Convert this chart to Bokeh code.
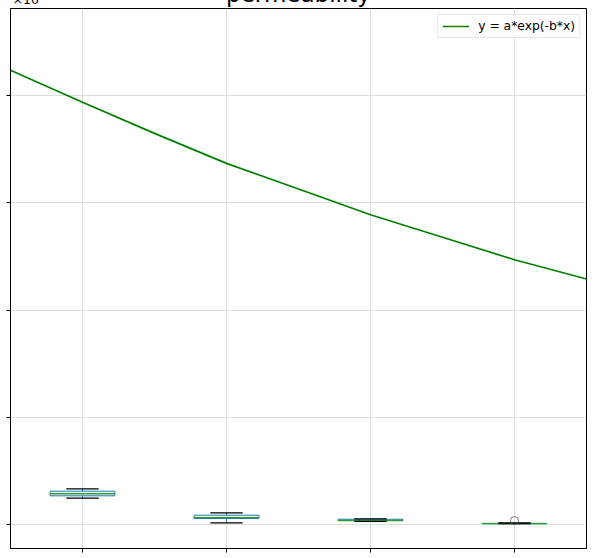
from bokeh.plotting import figure
from bokeh.models import Range1d, FixedTicker, Title, Legend, LegendItem
from bokeh.embed import file_html
from bokeh.resources import INLINE

# ---- data (values in units of 1e-12) ----
positions = [1, 2, 3, 4]
whislo = [0.244, 0.014, 0.028, 0.005]
q1 = [0.266, 0.054, 0.033, 0.006]
median = [0.285, 0.063, 0.037, 0.007]
q3 = [0.309, 0.085, 0.047, 0.009]
whishi = [0.331, 0.107, 0.051, 0.014]
flier_x = [4]
flier_y = [0.035]

curve_x = [0.5, 1.0, 1.5, 2.0, 2.5, 3.0, 3.5, 4.0, 4.5]
curve_y = [4.24, 3.94, 3.65, 3.37, 3.13, 2.89, 2.68, 2.47, 2.29]

y_ticks = [0, 1, 2, 3, 4]
x_ticks = [1, 2, 3, 4]

title_text = "permeability"
offset_text = "×10⁻¹²"
legend_text = "y = a*exp(-b*x)"

BOX_W = 0.45
CAP_W = 0.225
X_LO, X_HI = 0.5, 4.5
Y_LO, Y_HI = -0.226, 4.816

p = figure(
    frame_width=576, frame_height=540,
    min_border_left=40, min_border_right=11, min_border_top=40, min_border_bottom=9,
    x_range=Range1d(X_LO, X_HI), y_range=Range1d(Y_LO, Y_HI),
    output_backend="svg", toolbar_location=None,
)
p.margin = (-32, 0, -15, -30)

p.background_fill_color = "white"
p.border_fill_color = "white"
p.outline_line_color = "black"
p.outline_line_width = 1

FONT = "DejaVu Sans"
for ax in (p.xaxis[0], p.yaxis[0]):
    ax.axis_line_color = "black"
    ax.axis_line_width = 1
    ax.major_tick_out = 4
    ax.major_tick_in = 0
    ax.minor_tick_out = 0
    ax.minor_tick_in = 0
    ax.major_tick_line_color = "black"
    ax.major_label_text_font = FONT
    ax.major_label_text_color = "black"

p.yaxis.ticker = FixedTicker(ticks=y_ticks)
p.yaxis.major_label_text_font_size = "12.5px"
p.yaxis.major_label_standoff = 6
p.xaxis.ticker = FixedTicker(ticks=x_ticks)
p.xaxis.major_label_overrides = {t: "" for t in x_ticks}
p.xaxis.major_label_text_font_size = "12.5px"
p.xaxis.major_label_standoff = 0

p.xgrid.ticker = FixedTicker(ticks=x_ticks)
p.ygrid.ticker = FixedTicker(ticks=y_ticks)
for g in (p.xgrid[0], p.ygrid[0]):
    g.grid_line_color = "#dedede"
    g.grid_line_width = 1

# axis offset text just above the frame's left corner (nearest panel)
p.add_layout(Title(text=offset_text, align="left", text_font=FONT,
                   text_font_size="12.5px", text_font_style="normal",
                   text_color="black", offset=2, standoff=3), "above")
# main title, pulled down to sit at the same height (cut by the top edge)
p.add_layout(Title(text=title_text, align="center", text_font=FONT,
                   text_font_size="23px", text_font_style="normal",
                   text_color="black", standoff=-37), "above")

# boxplots
left = [x - BOX_W / 2 for x in positions]
right = [x + BOX_W / 2 for x in positions]
p.segment(x0=positions, y0=whislo, x1=positions, y1=q1, line_color="#1f77b4", line_width=1)
p.segment(x0=positions, y0=q3, x1=positions, y1=whishi, line_color="#1f77b4", line_width=1)
p.quad(left=left, right=right, bottom=q1, top=q3, fill_color=None,
       line_color="#1f77b4", line_width=1)
p.segment(x0=left, y0=median, x1=right, y1=median, line_color="#2ca02c", line_width=1.3)
cl = [x - CAP_W / 2 for x in positions]
cr = [x + CAP_W / 2 for x in positions]
p.segment(x0=cl, y0=whislo, x1=cr, y1=whislo, line_color="black", line_width=1.2)
p.segment(x0=cl, y0=whishi, x1=cr, y1=whishi, line_color="black", line_width=1.2)
p.scatter(flier_x, flier_y, marker="circle", size=8, fill_color=None,
          line_color="#555555", line_width=0.8)

# fitted curve
r = p.line(curve_x, curve_y, line_color="green", line_width=1.7)

legend = Legend(items=[LegendItem(label=legend_text, renderers=[r])],
                location="top_right")
legend.margin = 6
legend.padding = 4
legend.spacing = 0
legend.glyph_width = 27
legend.glyph_height = 14
legend.label_standoff = 9
legend.label_text_font = FONT
legend.label_text_font_size = "12.3px"
legend.label_text_color = "black"
legend.border_line_color = "#cccccc"
legend.border_line_width = 1
legend.background_fill_alpha = 0.8
p.add_layout(legend, "center")

open("out.html", "w").write(file_html(p, INLINE))
